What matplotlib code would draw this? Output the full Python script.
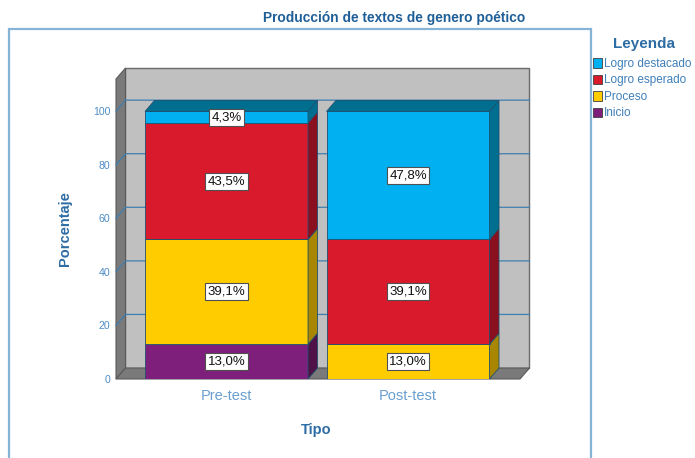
import matplotlib.pyplot as plt
from matplotlib.patches import Polygon, Rectangle, Patch
import numpy as np

plt.rcParams['font.family'] = ['Liberation Sans', 'DejaVu Sans']

# datos
tipos = ['Pre-test', 'Post-test']
niveles = ['Inicio', 'Proceso', 'Logro esperado', 'Logro destacado']
inicio = [13.0, 0.0]
proceso = [39.1, 13.0]
logro_esperado = [43.5, 39.1]
logro_destacado = [4.3, 47.8]
yticks = [0, 20, 40, 60, 80, 100]

series = [inicio, proceso, logro_esperado, logro_destacado]
frente = ['#7E1F7C', '#FFCC00', '#D81A2C', '#00B0F0']
lado = ['#4E1248', '#A88600', '#8A1020', '#006E8F']
tope = '#006E8F'
borde = '#1F5070'

fig = plt.figure(figsize=(6.95, 4.58), dpi=100)
W, H = 695, 458
# marco exterior
fig.add_artist(Rectangle((9 / W, -0.05), 582 / W, 1 - 29 / H + 0.05,
                         transform=fig.transFigure, fill=False,
                         edgecolor='#86B4D6', lw=1.6))
fig.text(394.5 / W, 1 - 18 / H, 'Producción de textos de genero poético',
         ha='center', va='center', fontsize=9.9, fontweight='bold', color='#1F5F98')

ax = fig.add_axes([116 / W, 1 - 379 / H, 404 / W, 300 / H])
xl, xr = -0.609, 1.617
ymax = 112
ax.set_xlim(xl, xr)
ax.set_ylim(0, ymax)
for s in ax.spines.values():
    s.set_visible(False)

DX, DY = 0.0523, 4.1
ancho = 0.898
x = np.arange(len(tipos))

# paredes
ax.add_patch(Rectangle((xl + DX, DY), xr - xl, ymax, facecolor='#C0C0C0',
                       edgecolor='#6A6A6A', lw=1.0, zorder=1, clip_on=False))
ax.add_patch(Polygon([(xl, 0), (xl + DX, DY), (xl + DX, ymax + DY), (xl, ymax)],
                     facecolor='#7A7A7A', edgecolor='#5A5A5A', lw=0.8, zorder=1.5, clip_on=False))
ax.add_patch(Polygon([(xl, 0), (xr, 0), (xr + DX, DY), (xl + DX, DY)],
                     facecolor='#7A7A7A', edgecolor='#5A5A5A', lw=0.8, zorder=1.5, clip_on=False))

# rejilla
for v in yticks[1:]:
    ax.plot([xl, xl + DX, xr + DX], [v, v + DY, v + DY], color='#3F7FB0',
            lw=0.9, zorder=2, clip_on=False)

# barras apiladas
base = np.zeros(len(tipos))
for vals, fc, sc in zip(series, frente, lado):
    vals = np.array(vals)
    ax.bar(x, vals, ancho, bottom=base, color=fc, edgecolor=borde, lw=0.6, zorder=3)
    for i in range(len(tipos)):
        if vals[i] <= 0:
            continue
        xe = x[i] + ancho / 2
        y0, y1 = base[i], base[i] + vals[i]
        ax.add_patch(Polygon([(xe, y0), (xe + DX, y0 + DY), (xe + DX, y1 + DY), (xe, y1)],
                             facecolor=sc, edgecolor=borde, lw=0.6, zorder=3))
        ax.text(x[i], (y0 + y1) / 2, f'{vals[i]:.1f}%'.replace('.', ','),
                ha='center', va='center', fontsize=9.5, color='#111111', zorder=10,
                bbox=dict(boxstyle='square,pad=0.18', facecolor='white',
                          edgecolor='#505050', lw=0.8))
    base = base + vals

for i in range(len(tipos)):
    xa, xb = x[i] - ancho / 2, x[i] + ancho / 2
    t = base[i]
    ax.add_patch(Polygon([(xa, t), (xb, t), (xb + DX, t + DY), (xa + DX, t + DY)],
                         facecolor=tope, edgecolor=borde, lw=0.6, zorder=3))

ax.set_yticks(yticks)
ax.set_yticklabels([str(v) for v in yticks])
ax.set_xticks(x)
ax.set_xticklabels(tipos)
ax.tick_params(axis='y', length=0, pad=4, labelsize=7.6, labelcolor='#4D8CC4')
ax.tick_params(axis='x', length=0, pad=7, labelsize=10.5, labelcolor='#6A9FD0')

ax.set_ylabel('Porcentaje', fontsize=10.5, fontweight='bold', color='#2E6DA4')
ax.yaxis.set_label_coords(-0.109, 0.5)
ax.set_xlabel('Tipo', fontsize=10.5, fontweight='bold', color='#2E6DA4')
ax.xaxis.set_label_coords(0.495, -0.147)

# leyenda
fig.text(644 / W, 1 - 44 / H, 'Leyenda', ha='center', va='center',
         fontsize=11, fontweight='bold', color='#2E6DA4')
handles = [Patch(facecolor=frente[k], edgecolor='#404040', lw=0.6)
           for k in range(3, -1, -1)]
labels = [niveles[k] for k in range(3, -1, -1)]
leg = fig.legend(handles, labels, loc='upper left',
                 bbox_to_anchor=(593 / W, 1 - 58 / H), frameon=False,
                 fontsize=8.5, handlelength=0.75, handleheight=0.85, handletextpad=0.2,
                 labelspacing=0.38, borderaxespad=0, borderpad=0.0)
for t in leg.get_texts():
    t.set_color('#3F7FB8')

fig.savefig('out.png', dpi=100)
